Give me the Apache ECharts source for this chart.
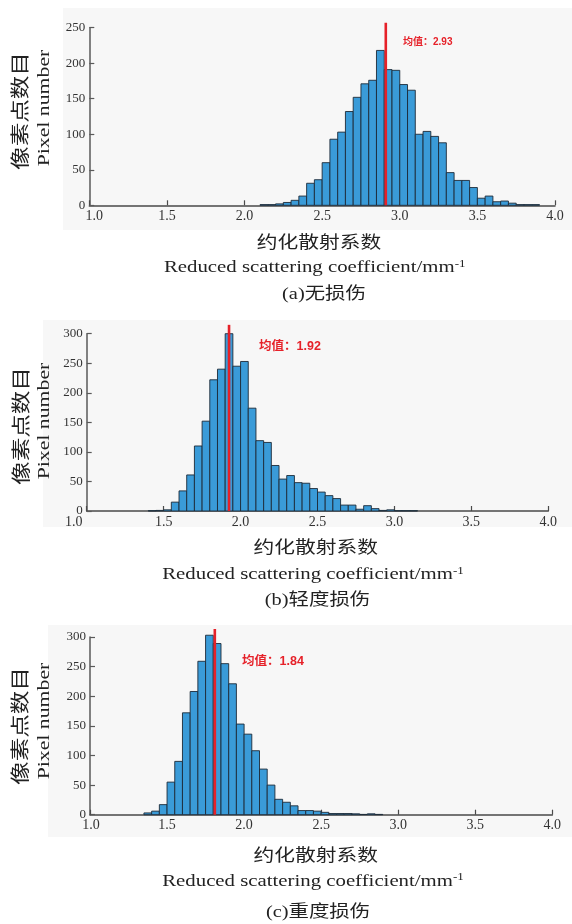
<!DOCTYPE html>
<html>
<head>
<meta charset="utf-8">
<script src="https://cdn.jsdelivr.net/npm/echarts@6/dist/echarts.min.js"></script>
<style>html,body{margin:0;padding:0;background:#fff}#c{width:572px;height:924px}</style>
</head>
<body>
<div id="c"></div>
<script>
// ---------- data ----------
const BIN = 0.05;
const xTicks = ['1.0','1.5','2.0','2.5','3.0','3.5','4.0'];

const edgesA = [2.10,2.15,2.20,2.25,2.30,2.35,2.40,2.45,2.50,2.55,2.60,2.65,2.70,2.75,2.80,2.85,2.90,2.95,3.00,3.05,3.10,3.15,3.20,3.25,3.30,3.35,3.40,3.45,3.50,3.55,3.60,3.65,3.70,3.75,3.80,3.85];
const countsA = [1,1,2,4,7,13,31,36,60,93,103,132,152,171,176,218,191,190,170,162,100,104,97,88,46,35,35,25,10,13,5,6,3,1,1,1];
const meanA = 2.91, meanLabelA = '均值：2.93';

const edgesB = [1.40,1.45,1.50,1.55,1.60,1.65,1.70,1.75,1.80,1.85,1.90,1.95,2.00,2.05,2.10,2.15,2.20,2.25,2.30,2.35,2.40,2.45,2.50,2.55,2.60,2.65,2.70,2.75,2.80,2.85,2.90,2.95,3.00,3.05,3.10];
const countsB = [0.5,1,2,15,34,61,110,152,222,240,300,245,253,174,119,116,77,54,60,48,47,38,32,26,21,10,10,3,9,4,1,2,0.5,0.5,0.5];
const meanB = 1.925, meanLabelB = '均值：1.92';

const edgesC = [1.35,1.40,1.45,1.50,1.55,1.60,1.65,1.70,1.75,1.80,1.85,1.90,1.95,2.00,2.05,2.10,2.15,2.20,2.25,2.30,2.35,2.40,2.45,2.50,2.55,2.60,2.65,2.70,2.75,2.80,2.85];
const countsC = [3,6,17,55,90,172,208,259,303,289,255,221,153,136,108,77,50,26,21,15,7,7,6,4,2,2,2,1.5,0.5,1.5,0.5];
const meanC = 1.81, meanLabelC = '均值：1.84';

const yTitleCN = '像素点数目', yTitleEN = 'Pixel number';
const xTitleCN = '约化散射系数', xTitleEN = 'Reduced scattering coefficient/mm';
const captions = ['(a)无损伤', '(b)轻度损伤', '(c)重度损伤'];

// ---------- layout ----------
const panels = [
  {edges: edgesA, counts: countsA, mean: meanA, meanTop: 257, ymax: 250,
   grid: {left: 89.3, top: 27.7, width: 465.7, height: 177.6},
   bg: [63, 8, 509, 222], firstPad: [0,0,0,10],
   label: {x: 403, y: 42, size: 10, text: meanLabelA},
   yCN: [20, 111], yEN: [45, 108], xCN: [319, 241.7], xEN: [314.7, 268], cap: [324, 295]},
  {edges: edgesB, counts: countsB, mean: meanB, meanTop: 315, ymax: 300,
   grid: {left: 86.7, top: 333.7, width: 461.6, height: 177.3},
   bg: [43, 320, 529, 207], firstPad: [0,26,0,0],
   label: {x: 259, y: 347, size: 12.5, text: meanLabelB},
   yCN: [20.7, 426], yEN: [45, 421], xCN: [315.7, 546.7], xEN: [313, 575], cap: [317.5, 601]},
  {edges: edgesC, counts: countsC, mean: meanC, meanTop: 313.5, ymax: 300,
   grid: {left: 90, top: 637, width: 462.3, height: 177.7},
   bg: [48, 625, 524, 212], firstPad: [0,0,0,2],
   label: {x: 242, y: 662, size: 12.5, text: meanLabelC},
   yCN: [20, 726], yEN: [45, 721], xCN: [315.7, 855], xEN: [313, 881.7], cap: [318, 913]}
];

const SERIF = '"Liberation Serif","Times New Roman","Noto Sans CJK SC",serif';
const CJK = '"Noto Sans CJK SC","Liberation Serif",sans-serif';

function renderBar(params, api) {
  const x0 = api.value(0), x1 = api.value(1), y = api.value(2);
  const p0 = api.coord([x0, y]);
  const p1 = api.coord([x1, 0]);
  return {
    type: 'rect',
    shape: {x: p0[0], y: p0[1], width: p1[0] - p0[0], height: p1[1] - p0[1]},
    style: {fill: '#3a9bd8', stroke: '#1d2a38', lineWidth: 0.9}
  };
}

const grids = [], xAxes = [], yAxes = [], series = [], graphics = [];

panels.forEach((p, i) => {
  grids.push(Object.assign({outerBoundsMode: 'none', containLabel: false}, p.grid));
  xAxes.push({
    gridIndex: i, type: 'value', min: 1, max: 4, interval: 0.5,
    axisLine: {show: true, onZero: false, lineStyle: {color: '#4a4a4a', width: 1.5}},
    axisTick: {show: true, inside: true, length: 5, lineStyle: {color: '#4a4a4a', width: 1.2}},
    splitLine: {show: false},
    axisLabel: {
      margin: 4, color: '#333', fontFamily: SERIF, fontSize: 14,
      formatter: v => {
        const idx = Math.round((v - 1) / 0.5);
        const t = xTicks[idx];
        return idx === 0 ? '{f|' + t + '}' : t;
      },
      rich: {f: {padding: p.firstPad, fontFamily: SERIF, fontSize: 14, color: '#333'}}
    }
  });
  yAxes.push({
    gridIndex: i, type: 'value', min: 0, max: p.ymax, interval: 50,
    axisLine: {show: true, onZero: false, lineStyle: {color: '#5a5a5a', width: 1.5}},
    axisTick: {show: true, inside: true, length: 5, lineStyle: {color: '#5a5a5a', width: 1.2}},
    splitLine: {show: false},
    axisLabel: {margin: 4, color: '#333', fontFamily: SERIF, fontSize: 13}
  });
  series.push({
    type: 'custom', xAxisIndex: i, yAxisIndex: i, clip: false,
    renderItem: renderBar,
    encode: {x: [0, 1], y: 2},
    data: p.edges.map((e, k) => [e, e + BIN, p.counts[k]]),
    z: 2, silent: true
  });
  series.push({
    type: 'line', xAxisIndex: i, yAxisIndex: i, clip: false,
    data: [[p.mean, 0], [p.mean, p.meanTop]],
    symbol: 'none', lineStyle: {color: '#e62129', width: 2.6},
    z: 5, silent: true, animation: false
  });

  graphics.push({
    type: 'rect', z: -10, silent: true,
    shape: {x: p.bg[0], y: p.bg[1], width: p.bg[2], height: p.bg[3]},
    style: {fill: '#f7f7f7'}
  });
  graphics.push({
    type: 'text', x: p.label.x, y: p.label.y, z: 10,
    style: {text: p.label.text, fill: '#e62129', fontWeight: 'bold',
      fontFamily: '"Liberation Sans","Noto Sans CJK SC",sans-serif', fontSize: p.label.size,
      align: 'left', verticalAlign: 'middle'}
  });
  graphics.push({
    type: 'text', x: p.yCN[0], y: p.yCN[1], rotation: Math.PI / 2, scaleX: 1.24,
    style: {text: yTitleCN, fill: '#222', fontFamily: CJK, fontSize: 19,
      align: 'center', verticalAlign: 'middle'}
  });
  graphics.push({
    type: 'text', x: p.yEN[0], y: p.yEN[1], rotation: Math.PI / 2, scaleX: 1.32,
    style: {text: yTitleEN, fill: '#222', fontFamily: SERIF, fontSize: 16.5,
      align: 'center', verticalAlign: 'middle'}
  });
  graphics.push({
    type: 'text', x: p.xCN[0], y: p.xCN[1], scaleX: 1.22,
    style: {text: xTitleCN, fill: '#222', fontFamily: CJK, fontSize: 17,
      align: 'center', verticalAlign: 'middle'}
  });
  graphics.push({
    type: 'text', x: p.xEN[0], y: p.xEN[1], scaleX: 1.3,
    style: {text: '{m|' + xTitleEN + '}{s|-1}', fill: '#222', fontFamily: SERIF, fontSize: 16,
      align: 'center', verticalAlign: 'middle',
      rich: {
        m: {fontFamily: SERIF, fontSize: 16, lineHeight: 18, fill: '#222'},
        s: {fontFamily: SERIF, fontSize: 10, lineHeight: 10, verticalAlign: 'top', fill: '#222'}
      }}
  });
  graphics.push({
    type: 'text', x: p.cap[0], y: p.cap[1], scaleX: 1.2,
    style: {text: captions[i], fill: '#222', fontFamily: SERIF, fontSize: 17,
      align: 'center', verticalAlign: 'middle'}
  });
});

const chart = echarts.init(document.getElementById('c'), null, {renderer: 'canvas'});
chart.setOption({
  backgroundColor: '#ffffff',
  animation: false,
  grid: grids, xAxis: xAxes, yAxis: yAxes, series: series,
  graphic: {elements: graphics}
});
</script>
</body>
</html>
